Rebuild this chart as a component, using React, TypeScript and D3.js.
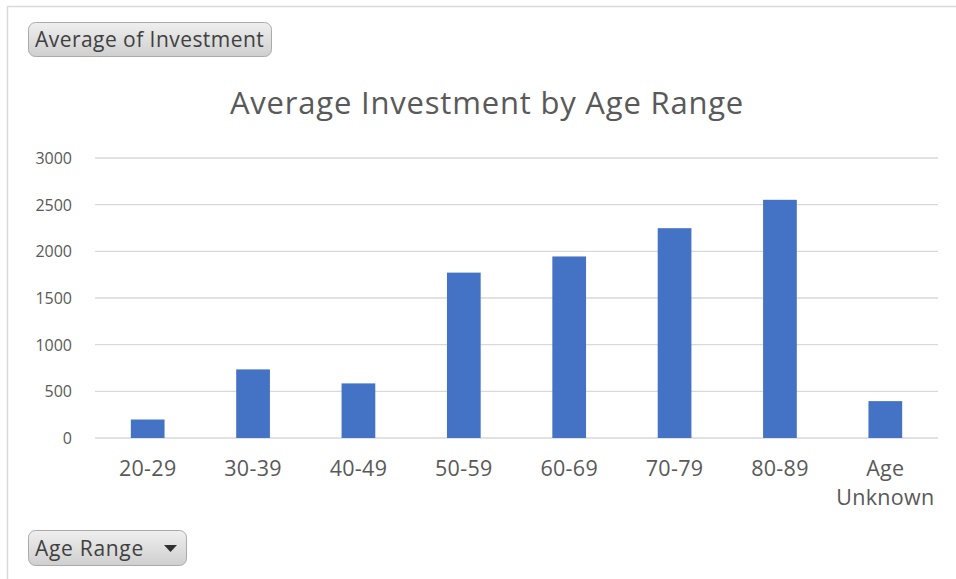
import React from "react";
import * as d3 from "d3";

const categories = ["20-29", "30-39", "40-49", "50-59", "60-69", "70-79", "80-89", "Age Unknown"];
const values = [198, 735, 585, 1772, 1945, 2248, 2552, 395];
const yTicks = [0, 500, 1000, 1500, 2000, 2500, 3000];

const W = 956;
const H = 579;
const FONT = "'Open Sans', sans-serif";

export default function App() {
  const left = 95, right = 938, top = 158, bottom = 438;
  const x = d3.scaleBand<string>().domain(categories).range([left, right]).paddingInner(0.68).paddingOuter(0.34);
  const y = d3.scaleLinear().domain([0, 3000]).range([bottom, top]);

  return (
    <svg width={W} height={H} style={{ position: "absolute", left: 0, top: 0 }}>
      <defs>
        <linearGradient id="btn" x1="0" y1="0" x2="0" y2="1">
          <stop offset="0" stopColor="#efefef" />
          <stop offset="1" stopColor="#cfcfcf" />
        </linearGradient>
      </defs>
      <rect x={0} y={0} width={W} height={H} fill="#fff" />
      <line x1={7} y1={6.5} x2={W} y2={6.5} stroke="#d9d9d9" strokeWidth={1.5} />
      <line x1={7.5} y1={6} x2={7.5} y2={H} stroke="#d9d9d9" strokeWidth={1.5} />

      <rect x={28.5} y={22.5} width={243} height={34} rx={7} fill="url(#btn)" stroke="#aaaaaa" />
      <text x={35} y={46.5} fontFamily={FONT} fontSize={21} letterSpacing={0.45} fill="#404040">Average of Investment</text>

      <rect x={28.5} y={530.5} width={158} height={35} rx={7} fill="url(#btn)" stroke="#aaaaaa" />
      <text x={35} y={555.5} fontFamily={FONT} fontSize={21} letterSpacing={0.7} fill="#404040">Age Range</text>
      <path d="M164,545 L177,545 L170.5,552 Z" fill="#303030" />

      <text x={487} y={114} textAnchor="middle" fontFamily={FONT} fontSize={31} letterSpacing={0.8} fill="#595959">
        Average Investment by Age Range
      </text>

      {yTicks.map((t) => (
        <g key={t}>
          <line x1={left} x2={right} y1={y(t)} y2={y(t)} stroke="#d9d9d9" strokeWidth={1.3} />
          <text x={72} y={y(t) + 6} textAnchor="end" fontFamily={FONT} fontSize={16} fill="#595959">
            {t}
          </text>
        </g>
      ))}

      {categories.map((c, i) => (
        <rect key={c} x={x(c)} y={y(values[i])} width={x.bandwidth()} height={y(0) - y(values[i])} fill="#4472c4" />
      ))}

      {categories.map((c) => {
        const cx = (x(c) as number) + x.bandwidth() / 2;
        const parts = c === "Age Unknown" ? ["Age", "Unknown"] : [c];
        return (
          <text key={c} textAnchor="middle" fontFamily={FONT} fontSize={21.5} letterSpacing={0.3} fill="#595959">
            {parts.map((p, j) => (
              <tspan key={j} x={cx} y={475.5 + j * 29}>{p}</tspan>
            ))}
          </text>
        );
      })}
    </svg>
  );
}
